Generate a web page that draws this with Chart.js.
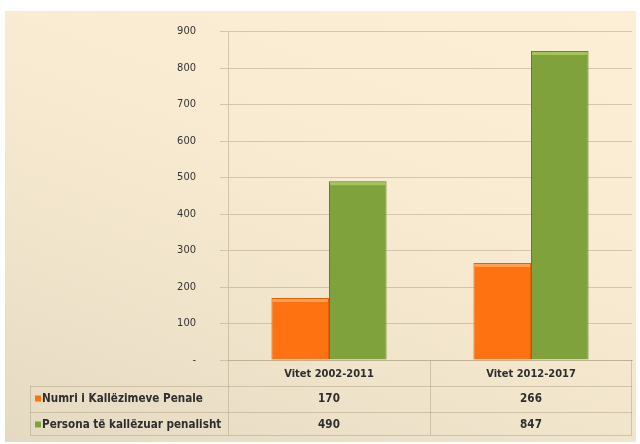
<!DOCTYPE html>
<html>
<head>
<meta charset="utf-8">
<script src="https://cdn.jsdelivr.net/npm/chart.js@4"></script>
<style>
  html, body { margin: 0; padding: 0; background: #fff; width: 640px; height: 444px; overflow: hidden; }
  #panel {
    position: absolute; left: 5px; top: 11px; width: 631px; height: 431px;
    background: linear-gradient(200deg, #fdefd5 0%, #f9ebd2 40%, #ece1c8 80%, #e4dac1 100%);
  }
  #wrap { position: absolute; left: 5px; top: 1px; width: 631px; height: 441px; }
</style>
</head>
<body>
<div id="panel"></div>
<div id="wrap"><canvas id="chart"></canvas></div>
<script>
// values
const categories = ['Vitet 2002-2011', 'Vitet 2012-2017'];
const seriesNames = ['Numri i Kallëzimeve Penale', 'Persona të kallëzuar penalisht'];
const kallezimePenale = [170, 266];
const personaKallezuar = [490, 847];
const seriesColors = ['#ff7212', '#7fa23d'];
const seriesBorders = ['#e65e08', '#5f7e2b'];
const seriesTops = ['#ffa256', '#a6c45e'];

const FONT = '"Liberation Sans Narrow", "DejaVu Sans Condensed", sans-serif';
const GRID = 'rgba(175, 160, 130, 0.5)';

// lighter rim on top of each bar, like the bevel in the original
const barRim = {
  id: 'barRim',
  afterDatasetsDraw(chart) {
    const { ctx } = chart;
    ctx.save();
    chart.data.datasets.forEach((ds, i) => {
      chart.getDatasetMeta(i).data.forEach(bar => {
        const { x, y, width } = bar.getProps(['x', 'y', 'width'], true);
        ctx.fillStyle = seriesTops[i];
        ctx.fillRect(x - width / 2 + 1, y + 1, width - 2, 3);
      });
    });
    ctx.restore();
  }
};

// draws the data table under the x axis (Excel style)
const dataTable = {
  id: 'dataTable',
  afterDraw(chart) {
    const { ctx, chartArea } = chart;
    const x = chart.scales.x;
    const left = 25;
    const headTop = chartArea.bottom;
    const rowTops = [headTop + 26, headTop + 52];
    const bottom = headTop + 75;
    const mid = (x.getPixelForValue(0) + x.getPixelForValue(1)) / 2;

    ctx.save();
    ctx.strokeStyle = GRID;
    ctx.lineWidth = 1;
    ctx.beginPath();
    rowTops.forEach(t => { ctx.moveTo(left, t + 0.5); ctx.lineTo(x.right, t + 0.5); });
    ctx.moveTo(left, bottom + 0.5); ctx.lineTo(x.right, bottom + 0.5);
    ctx.moveTo(left + 0.5, rowTops[0]); ctx.lineTo(left + 0.5, bottom);
    ctx.moveTo(x.left + 0.5, headTop); ctx.lineTo(x.left + 0.5, bottom);
    ctx.moveTo(mid + 0.5, headTop); ctx.lineTo(mid + 0.5, bottom);
    ctx.moveTo(x.right - 0.5, headTop); ctx.lineTo(x.right - 0.5, bottom);
    ctx.stroke();

    const rows = [kallezimePenale, personaKallezuar];
    ctx.font = 'bold 11.6px ' + FONT;
    ctx.textBaseline = 'middle';
    rows.forEach((vals, i) => {
      const cy = rowTops[i] + 12.5;
      ctx.fillStyle = seriesColors[i];
      ctx.fillRect(left + 5, cy - 3, 6, 6);
      ctx.fillStyle = '#2e2e2e';
      ctx.textAlign = 'left';
      ctx.fillText(seriesNames[i], left + 12, cy);
      ctx.textAlign = 'center';
      vals.forEach((v, j) => ctx.fillText(String(v), x.getPixelForValue(j), cy));
    });
    ctx.restore();
  }
};

new Chart(document.getElementById('chart'), {
  type: 'bar',
  data: {
    labels: categories,
    datasets: [
      { label: seriesNames[0], data: kallezimePenale, backgroundColor: seriesColors[0],
        borderColor: seriesBorders[0], borderWidth: 1 },
      { label: seriesNames[1], data: personaKallezuar, backgroundColor: seriesColors[1],
        borderColor: seriesBorders[1], borderWidth: 1 },
    ],
  },
  options: {
    responsive: true,
    maintainAspectRatio: false,
    animation: false,
    layout: { padding: { top: 10, right: 4, left: 0, bottom: 0 } },
    plugins: { legend: { display: false }, tooltip: { enabled: false } },
    datasets: { bar: { categoryPercentage: 0.57, barPercentage: 1 } },
    scales: {
      x: {
        grid: { display: false, drawTicks: false },
        border: { color: GRID },
        ticks: { color: '#2e2e2e', font: { family: FONT, size: 11, weight: 'bold' }, padding: 8 },
        afterFit: s => { s.height = 82; },
      },
      y: {
        min: 0, max: 900,
        grid: { color: GRID, tickLength: 8 },
        border: { color: GRID },
        ticks: {
          stepSize: 100, padding: 24, color: '#333333',
          font: { family: FONT, size: 11 },
          callback: v => (v === 0 ? '-' : v),
        },
        afterFit: s => { s.width = 223; },
      },
    },
  },
  plugins: [barRim, dataTable],
});
</script>
</body>
</html>
